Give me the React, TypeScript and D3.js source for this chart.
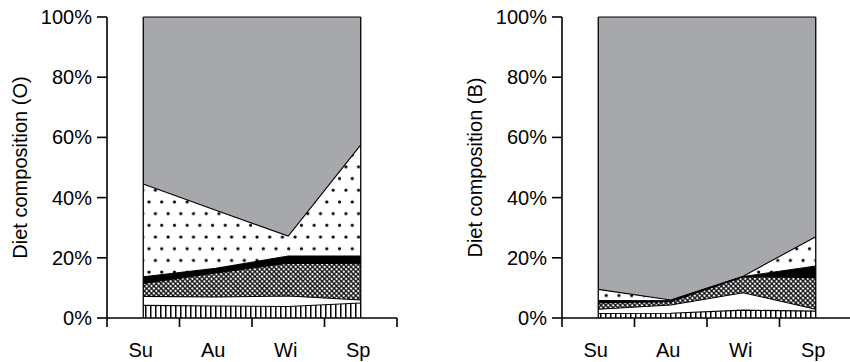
import React from 'react';
import * as d3 from 'd3';

const categories = ['Su', 'Au', 'Wi', 'Sp'];
const yTicks = [0, 20, 40, 60, 80, 100];
const layerKeys = ['stripes', 'white', 'cross', 'black', 'dots', 'gray'];

// Panel O (values in %, per layer, per season)
const oStripes = [4.2, 4.0, 3.8, 5.0];
const oWhite = [3.0, 3.0, 3.5, 1.0];
const oCross = [4.3, 8.0, 10.9, 12.0];
const oBlack = [2.2, 1.5, 2.4, 2.6];
const oDots = [30.8, 19.3, 6.6, 36.9];
const oGray = [55.5, 64.2, 72.8, 42.5];

// Panel B
const bStripes = [1.5, 1.6, 2.6, 2.3];
const bWhite = [1.4, 2.7, 5.8, 0.6];
const bCross = [2.2, 1.1, 5.3, 10.5];
const bBlack = [0.7, 0.5, 0.1, 3.9];
const bDots = [3.7, 0.1, 0.1, 9.7];
const bGray = [90.5, 94.0, 86.1, 73.0];

const FONT = '"Liberation Sans", Arial, Helvetica, sans-serif';
const fills: Record<string, string> = {
  stripes: 'url(#pStripes)',
  white: '#ffffff',
  cross: 'url(#pCross)',
  black: '#000000',
  dots: 'url(#pDots)',
  gray: '#a7a8ab',
};

type PanelData = Record<string, number[]>;

function Panel({ axisX, title, data }: { axisX: number; title: string; data: PanelData }) {
  const x = d3.scaleBand<string>().domain(categories).range([axisX, axisX + 290]);
  const y = d3.scaleLinear().domain([0, 100]).range([318, 17]);
  const cx = (c: string) => (x(c) as number) + x.bandwidth() / 2;
  const rows = categories.map((c, i) => {
    const r: any = { cat: c };
    layerKeys.forEach((k) => (r[k] = data[k][i]));
    return r;
  });
  const series = d3.stack<any>().keys(layerKeys)(rows);
  const area = d3
    .area<any>()
    .x((d) => cx(d.data.cat))
    .y0((d) => y(d[0]))
    .y1((d) => y(d[1]));
  const line = d3
    .line<any>()
    .x((d) => cx(d.data.cat))
    .y((d) => y(d[1]));
  const first = categories[0];
  const last = categories[categories.length - 1];
  const bounds = [axisX, ...categories.map((c) => (x(c) as number) + x.bandwidth())];
  return (
    <g>
      {series.map((s) => (
        <path key={s.key} d={area(s) || ''} fill={fills[s.key]} stroke="none" />
      ))}
      {series.map((s) => (
        <path key={'l' + s.key} d={line(s) || ''} fill="none" stroke="#000" strokeWidth={1.1} />
      ))}
      <line x1={cx(first)} x2={cx(first)} y1={y(0)} y2={y(100)} stroke="#000" strokeWidth={1.3} />
      <line x1={cx(last)} x2={cx(last)} y1={y(0)} y2={y(100)} stroke="#000" strokeWidth={1.3} />
      {/* y axis */}
      <line x1={axisX} x2={axisX} y1={y(100)} y2={y(0)} stroke="#000" strokeWidth={1.6} />
      {yTicks.map((t) => (
        <g key={t}>
          <line x1={axisX - 10} x2={axisX} y1={y(t)} y2={y(t)} stroke="#000" strokeWidth={1.6} />
          <text
            x={axisX - 15}
            y={y(t)}
            dy="0.35em"
            textAnchor="end"
            fontFamily={FONT}
            fontSize={20}
            fill="#000"
          >
            {t + '%'}
          </text>
        </g>
      ))}
      {/* x axis */}
      <line x1={axisX} x2={axisX + 290} y1={y(0)} y2={y(0)} stroke="#000" strokeWidth={1.6} />
      {bounds.map((b, i) => (
        <line key={i} x1={b} x2={b} y1={y(0)} y2={y(0) + 9} stroke="#000" strokeWidth={1.6} />
      ))}
      {categories.map((c) => (
        <text
          key={c}
          x={cx(c) - 2.5}
          y={357}
          textAnchor="middle"
          fontFamily={FONT}
          fontSize={20}
          fill="#000"
        >
          {c}
        </text>
      ))}
      <text
        transform={`translate(${axisX - 87},${(y(0) + y(100)) / 2}) rotate(-90)`}
        textAnchor="middle"
        dy="0.35em"
        fontFamily={FONT}
        fontSize={20}
        fill="#000"
      >
        {title}
      </text>
    </g>
  );
}

export default function App() {
  const dataO: PanelData = {
    stripes: oStripes,
    white: oWhite,
    cross: oCross,
    black: oBlack,
    dots: oDots,
    gray: oGray,
  };
  const dataB: PanelData = {
    stripes: bStripes,
    white: bWhite,
    cross: bCross,
    black: bBlack,
    dots: bDots,
    gray: bGray,
  };
  return (
    <svg
      width={850}
      height={362}
      style={{ position: 'absolute', left: 0, top: 0, background: '#fff' }}
    >
      <defs>
        <pattern id="pStripes" patternUnits="userSpaceOnUse" width={5} height={10}>
          <rect width={5} height={10} fill="#fff" />
          <rect x={0} width={1.5} height={10} fill="#000" />
        </pattern>
        <pattern
          id="pCross"
          patternUnits="userSpaceOnUse"
          width={3.4}
          height={3.4}
          patternTransform="rotate(45)"
        >
          <rect width={3.4} height={3.4} fill="#fff" />
          <path d="M0,1.7H3.4M1.7,0V3.4" stroke="#000" strokeWidth={1.15} />
        </pattern>
        <pattern id="pDots" patternUnits="userSpaceOnUse" width={12.7} height={23.4}>
          <rect width={12.7} height={23.4} fill="#fff" />
          <circle cx={3} cy={3} r={1.65} fill="#000" />
          <circle cx={9.35} cy={14.7} r={1.65} fill="#000" />
        </pattern>
      </defs>
      <rect width={850} height={362} fill="#fff" />
      <Panel axisX={107} title="Diet composition (O)" data={dataO} />
      <Panel axisX={562} title="Diet composition (B)" data={dataB} />
    </svg>
  );
}
